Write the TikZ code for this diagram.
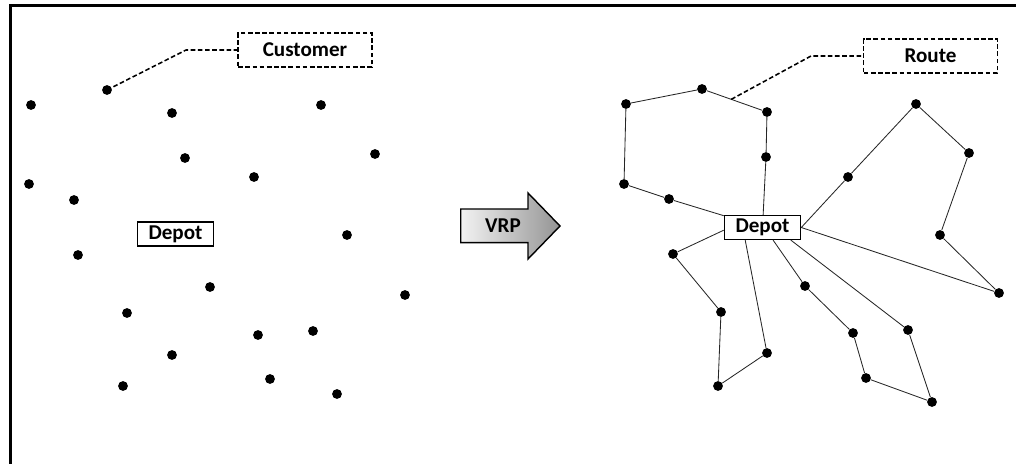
\documentclass[tikz,border=0pt]{standalone}
\usepackage{fontspec}
\setmainfont{Carlito}
\usepackage{tikz}
\usetikzlibrary{positioning, calc}

\begin{document}
\begin{tikzpicture}[
  x=0.025cm, y=-0.025cm,
  cust/.style={circle, fill=black, inner sep=0pt, minimum size=0.245cm},
  depotbox/.style={draw, line width=1.1pt, minimum width=1.9cm, minimum height=0.59cm, inner sep=1pt, font=\fontsize{15}{18}\selectfont\bfseries},
  callout/.style={draw, dash pattern=on 3.3pt off 1.8pt, line width=1.1pt, minimum width=3.34cm, minimum height=0.85cm, font=\fontsize{15}{18}\selectfont\bfseries},
  leader/.style={dash pattern=on 3.3pt off 1.8pt, line width=1.1pt},
  route/.style={line width=0.6pt, black!85}
]
  \useasboundingbox (0,0) rectangle (1016,464);

  % Frame
  \draw[line width=1.8pt] (10.5,464) -- (10.5,5.5) -- (1016,5.5);

  % Customers before routing
  \node[cust] (c1) at (31,105) {};
  \node[cust] (c2) at (107,90) {};
  \node[cust] (c3) at (172,113) {};
  \node[cust] (c4) at (321,105) {};
  \node[cust] (c5) at (185,158) {};
  \node[cust] (c6) at (375,154) {};
  \node[cust] (c7) at (29,184) {};
  \node[cust] (c8) at (74,200) {};
  \node[cust] (c9) at (254,177) {};
  \node[cust] (c10) at (347,235) {};
  \node[cust] (c11) at (78,255) {};
  \node[cust] (c12) at (210,287) {};
  \node[cust] (c13) at (405,295) {};
  \node[cust] (c14) at (127,313) {};
  \node[cust] (c15) at (258,335) {};
  \node[cust] (c16) at (313,331) {};
  \node[cust] (c17) at (172,355) {};
  \node[cust] (c18) at (270,379) {};
  \node[cust] (c19) at (123,386) {};
  \node[cust] (c20) at (337,394) {};

  \node[depotbox] (depotL) at (175.5,234) {Depot};

  % Customer label
  \node[callout] (custlabel) at (305,50) {Customer};
  \coordinate (custbend) at (186,50);
  \draw[leader] (c2.center) -- (custbend) -- (custlabel.west);

  % VRP arrow
  \path[draw, line width=1pt, left color=black!5, right color=black!42]
    (460.7,209) -- (528,209) -- (528,193) -- (560,226) -- (528,259) -- (528,242.7) -- (460.7,242.7) -- cycle;
  \node[font=\fontsize{15}{18}\selectfont\bfseries] (vrp) at (503,226) {VRP};

  % Depot after routing
  \node[depotbox] (depotR) at (762.5,227.5) {Depot};

  % Route 1
  \node[cust] (a1) at (669,199) {};
  \node[cust] (a2) at (624,184) {};
  \node[cust] (a3) at (626,104) {};
  \node[cust] (a4) at (702,89) {};
  \node[cust] (a5) at (767,112) {};
  \node[cust] (a6) at (766,157) {};
  \draw[route] (depotR) -- (a1) -- (a2) -- (a3) -- (a4) -- (a5) -- (a6) -- (depotR);

  % Route 2
  \node[cust] (b1) at (848,177) {};
  \node[cust] (b2) at (916,104) {};
  \node[cust] (b3) at (969,153) {};
  \node[cust] (b4) at (940,235) {};
  \node[cust] (b5) at (999,293) {};
  \draw[route] (depotR.east) -- (b1) -- (b2) -- (b3) -- (b4) -- (b5) -- (depotR.east);

  % Route 3
  \node[cust] (d1) at (673,254) {};
  \node[cust] (d2) at (721,312) {};
  \node[cust] (d3) at (718,386) {};
  \node[cust] (d4) at (767,353) {};
  \draw[route] (depotR.184) -- (d1) -- (d2) -- (d3) -- (d4) -- (depotR.216);

  % Route 4
  \node[cust] (e1) at (805,286) {};
  \node[cust] (e2) at (853,333) {};
  \node[cust] (e3) at (866,378) {};
  \node[cust] (e4) at (932,402) {};
  \node[cust] (e5) at (908,330) {};
  \draw[route] (depotR.310) -- (e1) -- (e2) -- (e3) -- (e4) -- (e5) -- (depotR.336);

  % Route label
  \node[callout] (routelabel) at (930.5,56) {Route};
  \coordinate (routebend) at (811,56);
  \coordinate (routept) at ($(a4)!0.45!(a5)$);
  \draw[leader] (routept) -- (routebend) -- (routelabel.west);

\end{tikzpicture}
\end{document}
